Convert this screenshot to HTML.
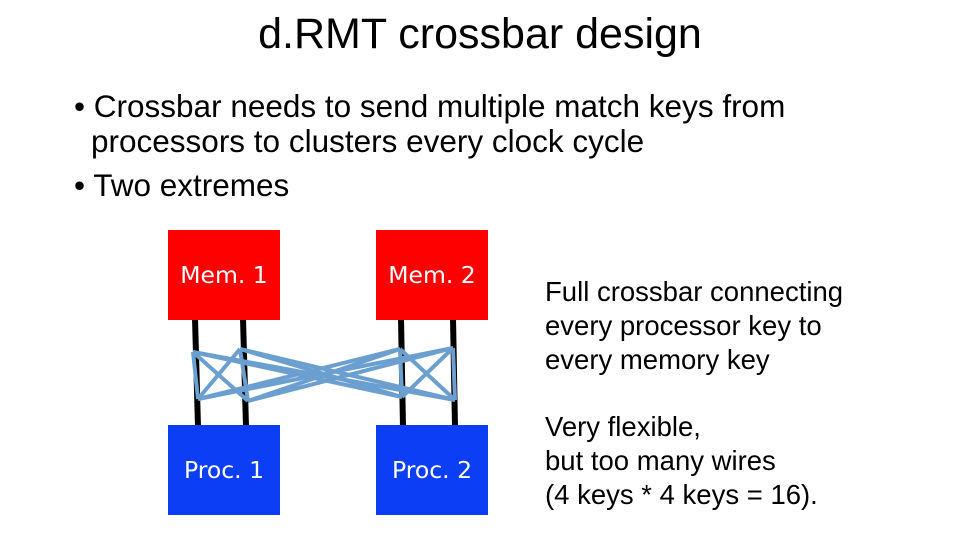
<!DOCTYPE html>
<html><head><style>
body{margin:0;width:960px;height:540px;background:#fff;position:relative;overflow:hidden;font-family:"Liberation Sans",sans-serif;}
.t{position:absolute;white-space:nowrap;color:#000;}
.box{position:absolute;width:112px;height:90px;color:#fff;font-size:23.5px;display:flex;align-items:center;justify-content:center;font-family:"DejaVu Sans","Liberation Sans",sans-serif;}
</style></head><body>
<div class="t" style="left:0;width:960px;text-align:center;top:10px;font-size:43px;">d.RMT crossbar design</div>
<div class="t" style="left:74px;top:89px;font-size:31.5px;line-height:35px;">• Crossbar needs to send multiple match keys from</div>
<div class="t" style="left:91px;top:124px;font-size:31.5px;line-height:35px;">processors to clusters every clock cycle</div>
<div class="t" style="left:74px;top:168px;font-size:31.5px;line-height:35px;">• Two extremes</div>
<svg style="position:absolute;left:0;top:0" width="960" height="540">
<g stroke="#000" stroke-width="6">
<line x1="195" y1="318" x2="198" y2="427"/><line x1="243" y1="318" x2="246" y2="427"/>
<line x1="401" y1="318" x2="403" y2="427"/><line x1="453" y1="318" x2="455" y2="427"/>
</g>
<g stroke="#6a9fd0" stroke-width="4" fill="none">
<line x1="193" y1="352" x2="198" y2="399"/><line x1="193" y1="352" x2="248" y2="401"/><line x1="193" y1="352" x2="402" y2="397"/><line x1="193" y1="352" x2="455" y2="400"/>
<line x1="240" y1="349" x2="198" y2="399"/><line x1="240" y1="349" x2="248" y2="401"/><line x1="240" y1="349" x2="402" y2="397"/><line x1="240" y1="349" x2="455" y2="400"/>
<line x1="400" y1="349" x2="198" y2="399"/><line x1="400" y1="349" x2="248" y2="401"/><line x1="400" y1="349" x2="402" y2="397"/><line x1="400" y1="349" x2="455" y2="400"/>
<line x1="453" y1="348" x2="198" y2="399"/><line x1="453" y1="348" x2="248" y2="401"/><line x1="453" y1="348" x2="402" y2="397"/><line x1="453" y1="348" x2="455" y2="400"/>
</g>
</svg>
<div class="box" style="left:168px;top:230px;background:#f00;">Mem. 1</div>
<div class="box" style="left:376px;top:230px;background:#f00;">Mem. 2</div>
<div class="box" style="left:168px;top:425px;background:#0c3ff5;">Proc. 1</div>
<div class="box" style="left:376px;top:425px;background:#0c3ff5;">Proc. 2</div>
<div class="t" style="left:545px;top:275px;font-size:27.5px;line-height:34px;">Full crossbar connecting<br>every processor key to<br>every memory key</div>
<div class="t" style="left:545px;top:410px;font-size:27.5px;line-height:34px;">Very flexible,<br>but too many wires<br>(4 keys * 4 keys = 16).</div>
</body></html>
